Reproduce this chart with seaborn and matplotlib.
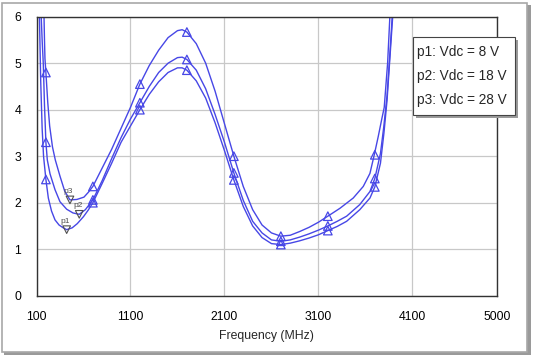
import matplotlib
matplotlib.use("Agg")
import matplotlib.pyplot as plt
import matplotlib.patches as mpatches
import pandas as pd
import numpy as np
import seaborn as sns

# curves (MHz, value)
p1_freq = [125, 135, 145, 160, 175, 200, 226, 260, 297, 340, 385, 421, 480, 534, 600, 650, 700,
           800, 900, 1000, 1100, 1200, 1300, 1400, 1500, 1600, 1650, 1700, 1800, 1900, 2000, 2100,
           2200, 2300, 2400, 2500, 2600, 2700, 2800, 2900, 3000, 3100, 3200, 3300, 3400, 3540, 3648,
           3700, 3760, 3797, 3830, 3860, 3890, 3905]
p1_val = [6.6, 5.6, 4.6, 3.6, 3.0, 2.5, 2.1, 1.82, 1.63, 1.52, 1.46, 1.42, 1.46, 1.55, 1.7, 1.84, 2.0,
          2.42, 2.85, 3.3, 3.65, 4.0, 4.33, 4.6, 4.8, 4.9, 4.9, 4.85, 4.62, 4.25, 3.72, 3.12,
          2.49, 1.92, 1.5, 1.25, 1.12, 1.1, 1.13, 1.18, 1.24, 1.31, 1.4, 1.49, 1.6, 1.85, 2.1,
          2.34, 2.85, 3.5, 4.2, 5.1, 6.0, 6.6]

p2_freq = [140, 150, 160, 172, 185, 200, 215, 244, 297, 350, 421, 488, 555, 620, 700,
           800, 900, 1000, 1100, 1200, 1300, 1400, 1500, 1600, 1650, 1700, 1800, 1900, 2000, 2100,
           2200, 2300, 2400, 2500, 2600, 2700, 2800, 2900, 3000, 3100, 3200, 3300, 3400, 3540, 3648,
           3700, 3760, 3795, 3830, 3860, 3885, 3900]
p2_val = [6.6, 6.0, 5.5, 5.0, 4.1, 3.3, 2.92, 2.62, 2.28, 2.02, 1.86, 1.78, 1.75, 1.85, 2.06,
          2.48, 2.95, 3.4, 3.8, 4.15, 4.5, 4.8, 5.0, 5.12, 5.13, 5.08, 4.85, 4.45, 3.9, 3.3,
          2.64, 2.05, 1.6, 1.35, 1.2, 1.17, 1.2, 1.26, 1.33, 1.41, 1.5, 1.6, 1.71, 1.96, 2.24,
          2.52, 3.06, 3.63, 4.3, 5.2, 6.0, 6.5]

p3_freq = [172, 180, 185, 190, 200, 220, 240, 270, 300, 350, 400, 456, 530, 605, 650, 700,
           800, 900, 1000, 1100, 1200, 1300, 1400, 1500, 1600, 1650, 1700, 1800, 1900, 2000, 2100,
           2200, 2300, 2400, 2500, 2600, 2700, 2800, 2900, 3000, 3100, 3200, 3329, 3470, 3577, 3648,
           3694, 3736, 3772, 3800, 3836, 3860, 3872]
p3_val = [6.6, 6.0, 5.5, 5.1, 4.8, 4.15, 3.65, 3.2, 2.92, 2.57, 2.25, 2.06, 2.07, 2.12, 2.22, 2.35,
          2.75, 3.15, 3.6, 4.05, 4.55, 4.95, 5.28, 5.55, 5.7, 5.72, 5.67, 5.42, 5.0, 4.4, 3.7,
          3.0, 2.35, 1.85, 1.52, 1.35, 1.28, 1.3, 1.38, 1.47, 1.58, 1.71, 1.88, 2.1, 2.35, 2.63,
          3.03, 3.42, 3.78, 4.05, 5.0, 6.0, 6.6]

# triangle markers
mark_freq = [200, 700, 1200, 1700, 2200, 2700, 3200, 3700]
p1_mark = [2.5, 2.0, 4.0, 4.85, 2.49, 1.10, 1.40, 2.34]
p2_mark = [3.3, 2.06, 4.15, 5.08, 2.64, 1.17, 1.50, 2.52]
p3_mark = [4.8, 2.35, 4.55, 5.67, 3.0, 1.28, 1.71, 3.03]

# minimum markers p1..p3
min_names = ["p1", "p2", "p3"]
min_freq = [421, 555, 456]
min_val = [1.42, 1.75, 2.06]

legend_text = ["p1: Vdc = 8 V", "p2: Vdc = 18 V", "p3: Vdc = 28 V"]

lines = pd.concat([
    pd.DataFrame({"freq": p1_freq, "val": p1_val, "curve": "p1"}),
    pd.DataFrame({"freq": p2_freq, "val": p2_val, "curve": "p2"}),
    pd.DataFrame({"freq": p3_freq, "val": p3_val, "curve": "p3"}),
])
marks = pd.concat([
    pd.DataFrame({"freq": mark_freq, "val": p1_mark, "curve": "p1"}),
    pd.DataFrame({"freq": mark_freq, "val": p2_mark, "curve": "p2"}),
    pd.DataFrame({"freq": mark_freq, "val": p3_mark, "curve": "p3"}),
])
mins = pd.DataFrame({"freq": min_freq, "val": min_val, "name": min_names})

sns.set_style("white")
plt.rcParams['font.family'] = ['Liberation Sans', 'DejaVu Sans']

blue = '#4747e6'
W, H = 534, 357
fig = plt.figure(figsize=(W / 100, H / 100), dpi=100)
ax = fig.add_axes([36.5 / W, 1 - 295.7 / H, (497 - 36.5) / W, (295.7 - 16.7) / H])

sns.lineplot(data=lines, x='freq', y='val', hue='curve', palette=[blue] * 3, estimator=None,
             sort=False, legend=False, linewidth=1.0, ax=ax)
sns.scatterplot(data=marks, x='freq', y='val', marker='^', s=38, facecolors='none',
                edgecolors=blue, linewidths=0.9, legend=False, ax=ax, zorder=4, clip_on=False)
sns.scatterplot(data=mins, x='freq', y='val', marker='v', s=30, facecolors='none',
                edgecolors='#505050', linewidths=0.8, legend=False, ax=ax, zorder=4)
for _, r in mins.iterrows():
    ax.annotate(r['name'], (r['freq'], r['val']), xytext=(-1, 3.5), textcoords='offset points',
                fontsize=6, color='#505050', ha='center', va='bottom')

ax.set_xlim(100, 5000)
ax.set_ylim(0, 6)
ax.set_xticks([100, 1100, 2100, 3100, 4100, 5000])
ax.set_yticks([0, 1, 2, 3, 4, 5, 6])
ax.grid(True, color='#c8c8c8', linewidth=0.9)
ax.set_axisbelow(True)
ax.tick_params(length=0, labelsize=8.8, colors='black')
ax.tick_params(axis='y', pad=11)
ax.tick_params(axis='x', pad=11)
ax.set_xlabel('Frequency (MHz)', fontsize=8.8, labelpad=5)
ax.set_ylabel('')
for sp in ax.spines.values():
    sp.set_color('#333333')
    sp.set_linewidth(1.0)

# outer frame with shadow
fig.patches.append(mpatches.Rectangle((4 / W, 1 - 355 / H), 527 / W, 350 / H, transform=fig.transFigure,
                                      facecolor='#9a9a9a', edgecolor='none', zorder=-2))
fig.patches.append(mpatches.Rectangle((2 / W, 1 - 352 / H), 525 / W, 349 / H, transform=fig.transFigure,
                                      facecolor='white', edgecolor='#a8a8a8', linewidth=1.2, zorder=-1))

# legend box with shadow
bx0, by0, bx1, by1 = 413, 37, 515, 115
fig.patches.append(mpatches.Rectangle(((bx0 + 3) / W, 1 - (by1 + 3) / H), (bx1 - bx0) / W, (by1 - by0) / H,
                                      transform=fig.transFigure, facecolor='#9a9a9a', edgecolor='none', zorder=5))
fig.patches.append(mpatches.Rectangle((bx0 / W, 1 - by1 / H), (bx1 - bx0) / W, (by1 - by0) / H,
                                      transform=fig.transFigure, facecolor='white', edgecolor='#444444',
                                      linewidth=0.8, zorder=6))
for i, t in enumerate(legend_text):
    fig.text(417 / W, 1 - (52 + 24 * i) / H, t, fontsize=9.8, va='center', ha='left', zorder=7)

fig.savefig('out.png', dpi=100)
